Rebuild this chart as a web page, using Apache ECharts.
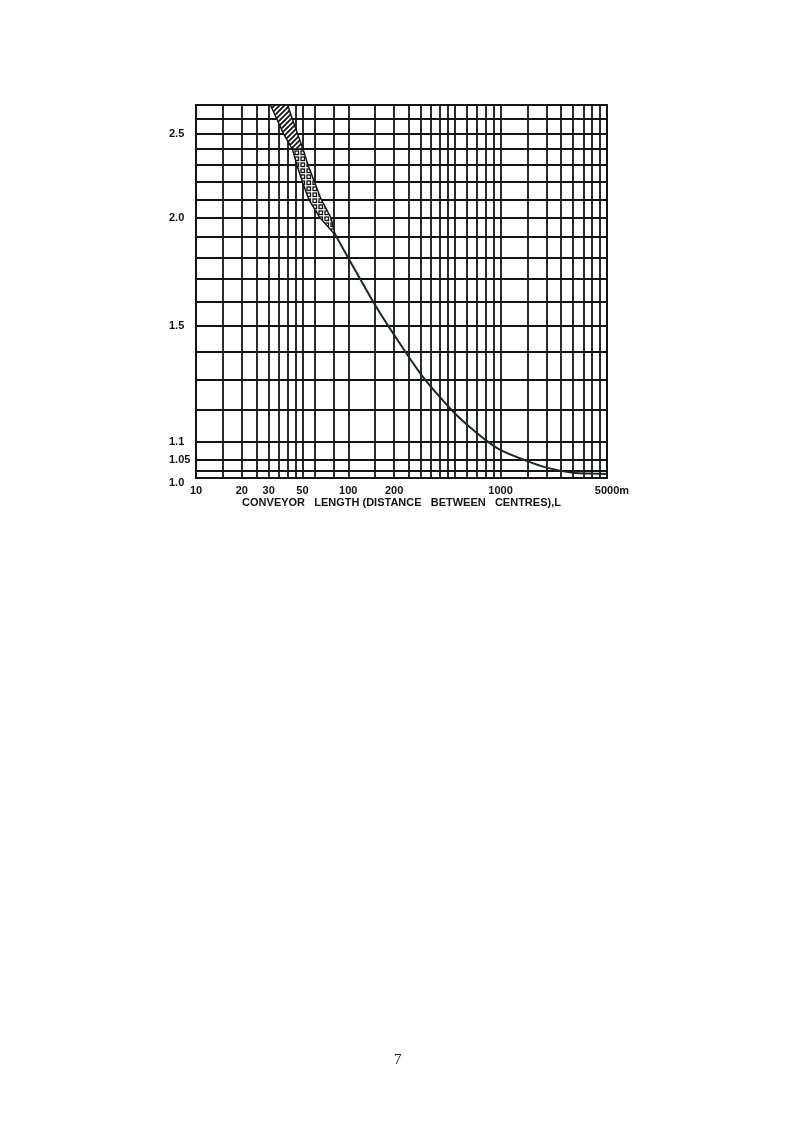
<!DOCTYPE html>
<html>
<head>
<meta charset="utf-8">
<script src="https://cdn.jsdelivr.net/npm/echarts@6/dist/echarts.min.js"></script>
<style>
html,body{margin:0;padding:0;background:#ffffff;}
#chart{width:794px;height:1122px;}
</style>
</head>
<body>
<div id="chart"></div>
<script>
// ---- data ----
const xGridValues = [10,15,20,25,30,35,40,45,50,60,80,100,150,200,250,300,350,400,450,500,600,700,800,900,1000,1500,2000,2500,3000,3500,4000,4500,5000];
const yGridValues = [1.0,1.02,1.05,1.1,1.2,1.3,1.4,1.5,1.6,1.7,1.8,1.9,2.0,2.1,2.2,2.3,2.4,2.5,2.6,2.7];
const xLabelValues = [10,20,30,50,100,200,1000,5000];
const xLabelTexts = ['10','20','30','50','100','200','1000','5000'];
const yLabelValues = [1.0,1.05,1.1,1.5,2.0,2.5];
const yLabelTexts = ['1.0','1.05','1.1','1.5','2.0','2.5'];

const curveLength = [81,100,150,200,300,400,500,600,700,800,1000,1500,2000,3000,4000,5000];
const curveFactor = [1.92,1.797,1.585,1.464,1.318,1.24,1.188,1.153,1.127,1.106,1.077,1.046,1.028,1.014,1.012,1.011];

const hatchFactor = [2.7,2.6,2.5,2.4];
const hatchLeft   = [30.8,34,37.6,43];
const hatchRight  = [40,43,46.5,50.5];

const chainFactor = [2.4,2.3,2.2,2.1,2.0,1.92];
const chainLeft   = [43,46,50,55,65,80];
const chainRight  = [50.5,54.5,60,66.4,77,81.5];

const xAxisTitle = 'CONVEYOR   LENGTH (DISTANCE   BETWEEN   CENTRES),L';
const pageNumber = '7';

// ---- styling helpers ----
const INK = '#141414';
const FONT = '"Liberation Sans", Arial, sans-serif';

function makeHatch() {
  const c = document.createElement('canvas');
  c.width = 5; c.height = 5;
  const g = c.getContext('2d');
  g.fillStyle = '#ffffff'; g.fillRect(0,0,5,5);
  g.strokeStyle = INK; g.lineWidth = 1.8;
  g.beginPath();
  g.moveTo(0,5); g.lineTo(5,0);
  g.moveTo(-1,1); g.lineTo(1,-1);
  g.moveTo(4,6); g.lineTo(6,4);
  g.stroke();
  return {image: c, repeat: 'repeat'};
}
function makeBoxes() {
  const c = document.createElement('canvas');
  c.width = 6; c.height = 6;
  const g = c.getContext('2d');
  g.fillStyle = '#ffffff'; g.fillRect(0,0,6,6);
  g.strokeStyle = INK; g.lineWidth = 1.3;
  g.strokeRect(1,1,3.5,3.5);
  return {image: c, repeat: 'repeat'};
}

function bandRenderer(ys, lefts, rights, fill) {
  return function (params, api) {
    const pts = [];
    for (let i = 0; i < ys.length; i++) pts.push(api.coord([lefts[i], ys[i]]));
    for (let i = ys.length - 1; i >= 0; i--) pts.push(api.coord([rights[i], ys[i]]));
    return {
      type: 'polygon',
      shape: {points: pts},
      style: {fill: fill, stroke: INK, lineWidth: 1.4}
    };
  };
}

function findText(values, texts, v) {
  for (let i = 0; i < values.length; i++) {
    if (Math.abs(values[i] - v) < 1e-6 * Math.max(1, v)) return texts[i];
  }
  return '';
}

const chart = echarts.init(document.getElementById('chart'), null, {renderer: 'canvas'});

const gridLine = {show: true, lineStyle: {color: INK, width: 1.8}};

chart.setOption({
  backgroundColor: '#ffffff',
  animation: false,
  grid: {left: 196, right: 187, top: 105, bottom: 644, show: true, borderColor: INK, borderWidth: 1.9, backgroundColor: 'transparent'},
  xAxis: {
    type: 'log', logBase: 10, min: 10, max: 5000,
    axisLine: {show: true, lineStyle: {color: INK, width: 1.9}},
    axisTick: {show: false, customValues: xGridValues},
    splitLine: Object.assign({customValues: xGridValues}, gridLine),
    minorTick: {show: false}, minorSplitLine: {show: false},
    axisLabel: {
      customValues: xLabelValues,
      margin: 7,
      color: INK, fontFamily: FONT, fontWeight: 'bold', fontSize: 11,
      formatter: function (v) {
        const t = findText(xLabelValues, xLabelTexts, v);
        if (v === xLabelValues[xLabelValues.length - 1]) return '{pad| }' + t + '{u|m}';
        return t;
      },
      rich: {
        pad: {width: 10, fontSize: 11, fontWeight: 'bold', fontFamily: FONT},
        u: {fontSize: 11, fontWeight: 'bold', fontFamily: FONT, color: INK}
      }
    },
    name: xAxisTitle,
    nameLocation: 'middle',
    nameGap: 19,
    nameTextStyle: {color: INK, fontFamily: FONT, fontWeight: 'bold', fontSize: 11, verticalAlign: 'top'}
  },
  yAxis: {
    type: 'log', logBase: 10, min: 1.0, max: 2.7,
    axisLine: {show: true, lineStyle: {color: INK, width: 1.9}},
    axisTick: {show: false, customValues: yGridValues},
    splitLine: Object.assign({customValues: yGridValues}, gridLine),
    minorTick: {show: false}, minorSplitLine: {show: false},
    axisLabel: {
      customValues: yLabelValues,
      align: 'left',
      margin: 27,
      color: INK, fontFamily: FONT, fontWeight: 'bold', fontSize: 11,
      formatter: function (v) {
        const t = findText(yLabelValues, yLabelTexts, v);
        if (v === yLabelValues[0]) return '{low|' + t + '}';
        return t;
      },
      rich: {
        low: {padding: [10, 0, 0, 0], color: INK, fontFamily: FONT, fontWeight: 'bold', fontSize: 11}
      }
    }
  },
  graphic: [{
    type: 'text', left: 394, top: 1053,
    style: {text: pageNumber, font: '15px "Liberation Serif", serif', fill: '#222'}
  }],
  series: [
    {
      type: 'custom',
      renderItem: bandRenderer(hatchFactor, hatchLeft, hatchRight, makeHatch()),
      data: [[hatchLeft[0], hatchFactor[0]]],
      z: 3, silent: true
    },
    {
      type: 'custom',
      renderItem: bandRenderer(chainFactor, chainLeft, chainRight, makeBoxes()),
      data: [[chainLeft[0], chainFactor[0]]],
      z: 3, silent: true
    },
    {
      type: 'line',
      data: curveLength.map((x, i) => [x, curveFactor[i]]),
      smooth: 0.3,
      showSymbol: false,
      lineStyle: {color: '#1b2a21', width: 2},
      z: 4, silent: true
    }
  ]
});
</script>
</body>
</html>
